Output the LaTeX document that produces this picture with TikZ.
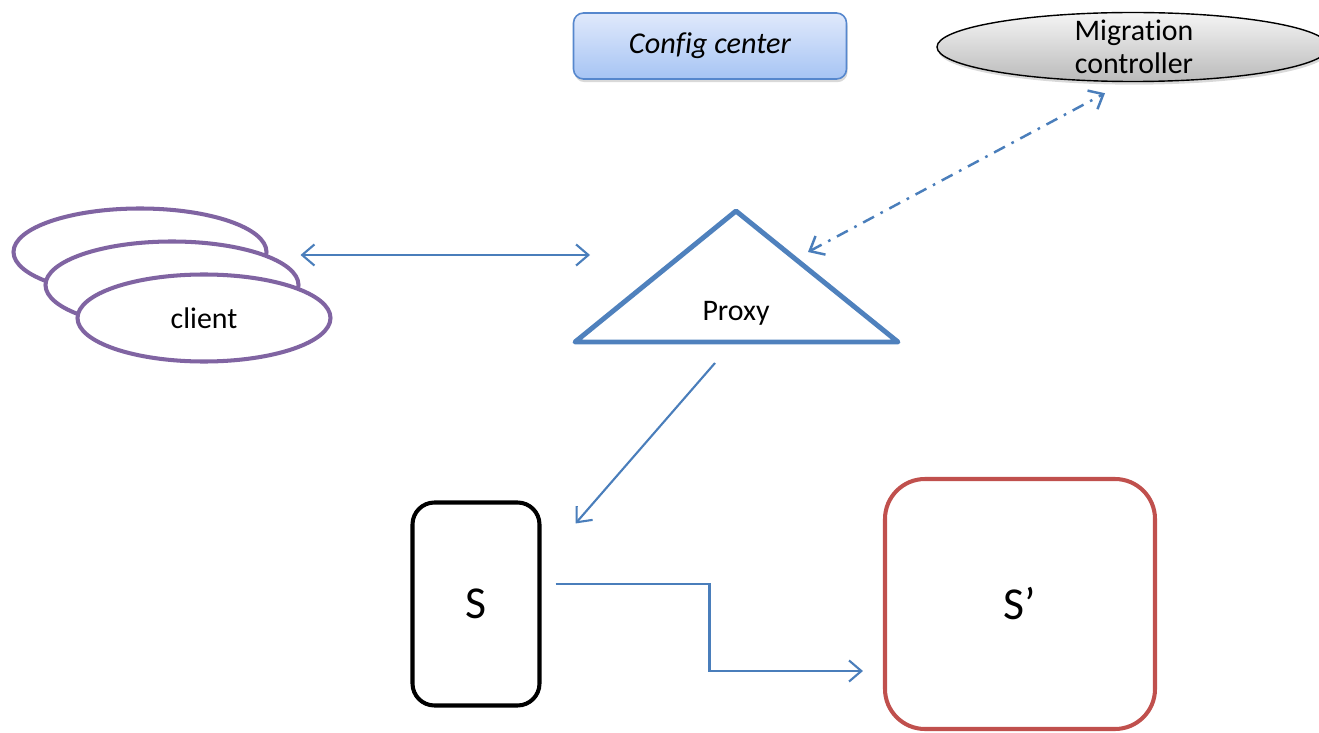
\documentclass[tikz,border=0pt]{standalone}
\usepackage{fontspec}
\setmainfont[Ligatures=NoCommon]{Carlito}
\usetikzlibrary{%
        arrows.meta,
        shapes.geometric,
        shadows
    }
\definecolor{linkblue}{RGB}{74, 126, 187}
\definecolor{proxyblue}{RGB}{79, 129, 189}
\definecolor{clientpurple}{RGB}{128, 100, 162}
\definecolor{replicared}{RGB}{192, 80, 77}
\definecolor{cfgtop}{RGB}{224, 233, 251}
\definecolor{cfgbottom}{RGB}{166, 196, 244}
\definecolor{cfgborder}{RGB}{86, 135, 205}
\tikzset{%
    tip/.tip={Straight Barb[length=7pt, width=12pt]},
    link/.style={linkblue, line width=1.2pt, -tip},
    biglink/.style={linkblue, line width=1.2pt, tip-tip},
    ctrllink/.style={%
        linkblue, line width=1.4pt, tip-tip,
        dash pattern=on 7pt off 4.2pt on 1.5pt off 4.2pt
    },
    softshadow/.style={%
        drop shadow={shadow xshift=0.6pt, shadow yshift=-1.8pt, opacity=0.3}
    }
}
\tikzset{%
    cfgbox/.style={%
        draw=cfgborder, line width=0.9pt, rounded corners=2mm,
        top color=cfgtop, bottom color=cfgbottom, softshadow,
        minimum width=54.6mm, minimum height=13.2mm,
        font=\fontsize{17.2}{21}\selectfont\itshape
    },
    ctrl/.style={%
        ellipse, draw=black, line width=0.8pt,
        top color=black!4, bottom color=black!27, softshadow,
        minimum width=78.4mm, minimum height=13.8mm
    },
    client/.style={%
        ellipse, draw=clientpurple, line width=2.3pt, fill=white,
        minimum width=50.6mm, minimum height=17.4mm,
        font=\fontsize{17}{20}\selectfont
    },
    proxy/.style={proxyblue, line width=2.8pt, line join=round},
    server/.style={%
        draw=black, line width=2.3pt, rounded corners=4.4mm,
        minimum width=25.4mm, minimum height=40.6mm,
        font=\fontsize{26}{30}\selectfont
    },
    replica/.style={%
        draw=replicared, line width=2.3pt, rounded corners=8mm,
        minimum width=54mm, minimum height=50mm,
        font=\fontsize{26}{30}\selectfont
    }
}

\begin{document}
\begin{tikzpicture}[x=0.2mm, y=-0.2mm]

    \useasboundingbox (0, 0) rectangle (1319, 733);

    % Config center
    \node[cfgbox] (cfg) at (710, 46) {Config center};

    % Migration controller
    \node[ctrl] (mc) at (1133, 47) {};
    \node[align=center, font=\fontsize{17}{19}\selectfont] (mctext)
        at (1134, 47) {Migration\\controller};

    % Clients, back one first
    \node[client] (cl1) at (140, 252) {};
    \node[client] (cl2) at (172, 285) {};
    \node[client] (cl3) at (204, 318) {client};

    % Proxy
    \coordinate (ptop) at (736, 211);
    \coordinate (pleft) at (575, 342);
    \coordinate (pright) at (898, 342);
    \coordinate (pbase) at (736, 342);
    \draw[proxy] (ptop) -- (pleft) -- (pright) -- cycle;
    \node[font=\fontsize{17}{20}\selectfont] (proxytext) at (736, 313) {Proxy};

    % Servers
    \node[server] (s) at (476, 604) {S};
    \node[replica] (s2) at (1020, 604) {S’};

    % Connecting clients, proxy and controller
    \draw[biglink]
        ([shift={(0, -30)}] cl2.east)
        -- ([shift={(15, -87)}] pleft);

    \draw[ctrllink]
        ([shift={(72, 41)}] ptop)
        -- ([shift={(-28, 11)}] mc.south);

    % Proxy down to S, then S over to S'
    \draw[link]
        ([shift={(-21, 21)}] pbase)
        -- ([shift={(34, 23)}] s.north east);

    \draw[link]
        ([shift={(14, -20)}] s.east)
        -- ++(154, 0)
        |- ([shift={(-20, 67)}] s2.west);

\end{tikzpicture}
\end{document}
